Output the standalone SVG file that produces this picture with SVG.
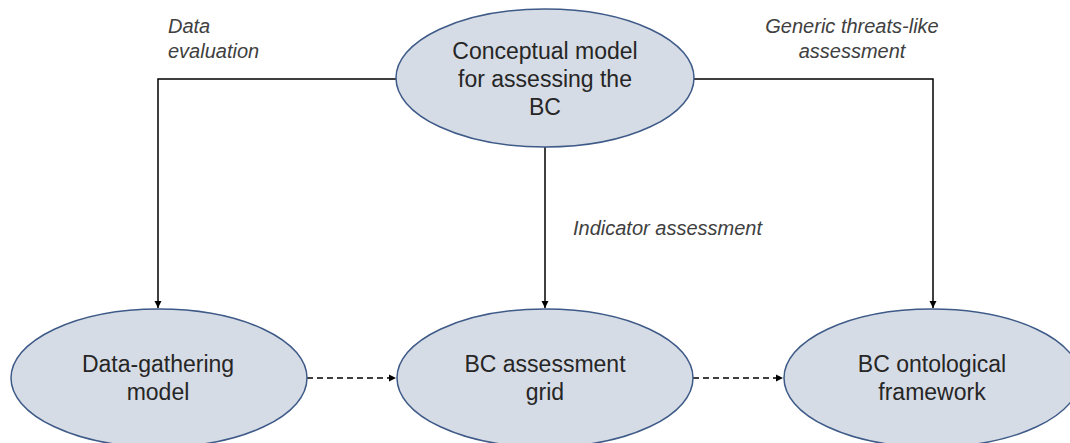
<svg xmlns="http://www.w3.org/2000/svg" width="1070" height="443" viewBox="0 0 1070 443">
<style>
.node{fill:#d6dce5;stroke:#3e5a88;stroke-width:1.5}
.nt{font-family:"Liberation Sans",Arial,sans-serif;font-size:23px;fill:#262626;text-anchor:middle}
.lab{font-family:"Liberation Sans",Arial,sans-serif;font-size:20px;font-style:italic;fill:#404040}
.ln{fill:none;stroke:#000;stroke-width:1.5}
.dash{stroke-dasharray:6 4}
</style>
<defs>
<marker id="ah" viewBox="0 0 10 10" refX="10" refY="5" markerWidth="5" markerHeight="5" orient="auto" markerUnits="strokeWidth">
<path d="M0,0 L10,5 L0,10 z" fill="#000"/>
</marker>
</defs>
<rect width="1070" height="443" fill="#fff"/>
<g id="connectors">
<path class="ln" d="M396,79 H158 V308" marker-end="url(#ah)"/>
<path class="ln" d="M694,79 H933 V308" marker-end="url(#ah)"/>
<path class="ln" d="M545,147 V308" marker-end="url(#ah)"/>
<path class="ln dash" d="M307,378 H396" marker-end="url(#ah)"/>
<path class="ln dash" d="M693,378 H783" marker-end="url(#ah)"/>
</g>
<g id="label-data-evaluation">
<text class="lab" x="168" y="33">Data</text>
<text class="lab" x="168" y="58">evaluation</text>
</g>
<g id="label-generic">
<text class="lab" x="852" y="33" text-anchor="middle">Generic threats-like</text>
<text class="lab" x="852" y="58" text-anchor="middle">assessment</text>
</g>
<g id="label-indicator">
<text class="lab" x="573" y="235">Indicator assessment</text>
</g>
<g id="node-conceptual">
<ellipse class="node" cx="545" cy="78" rx="149" ry="69"/>
<text class="nt" x="545" y="59">Conceptual model</text>
<text class="nt" x="545" y="87">for assessing the</text>
<text class="nt" x="545" y="115">BC</text>
</g>
<g id="node-data-gathering">
<ellipse class="node" cx="159" cy="378" rx="148" ry="69"/>
<text class="nt" x="158" y="372">Data-gathering</text>
<text class="nt" x="158" y="400">model</text>
</g>
<g id="node-grid">
<ellipse class="node" cx="545" cy="378" rx="148" ry="69"/>
<text class="nt" x="545" y="372">BC assessment</text>
<text class="nt" x="545" y="400">grid</text>
</g>
<g id="node-ontological">
<ellipse class="node" cx="932" cy="378" rx="148" ry="69"/>
<text class="nt" x="932" y="372">BC ontological</text>
<text class="nt" x="932" y="400">framework</text>
</g>
</svg>
